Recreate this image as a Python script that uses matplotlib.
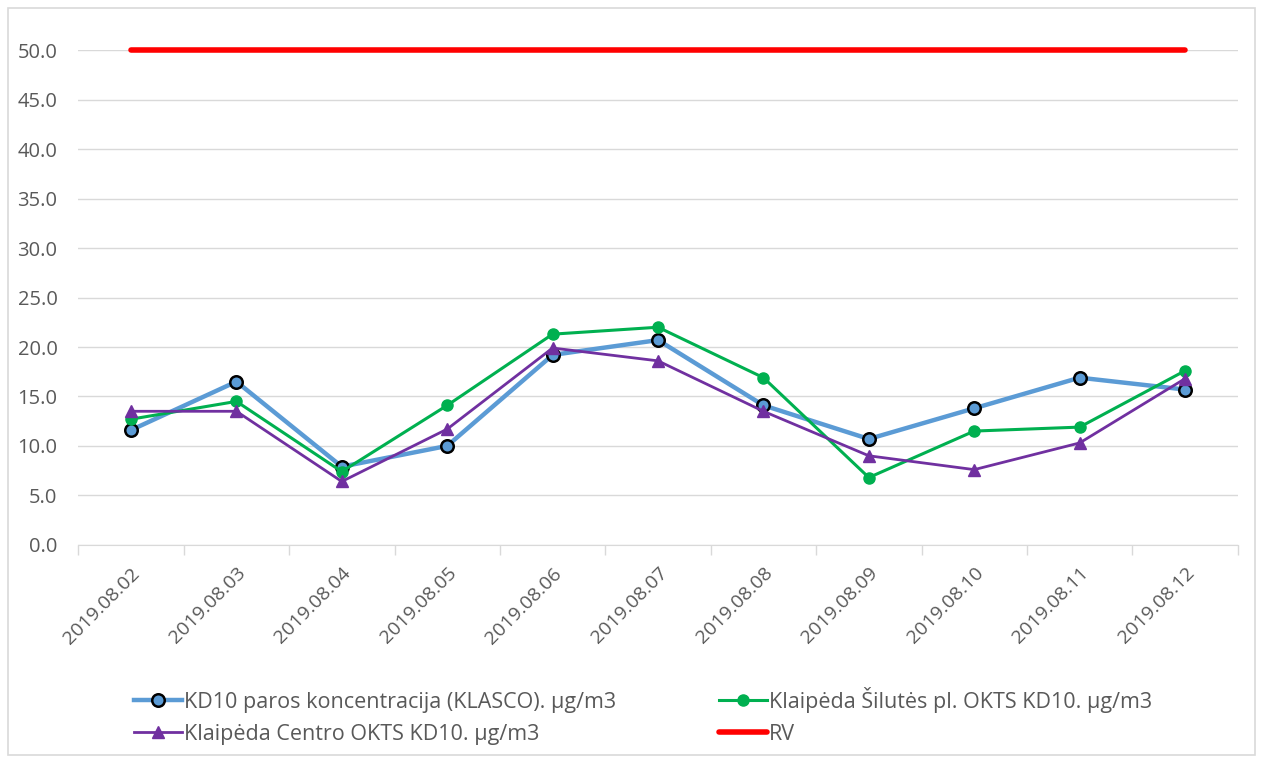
import matplotlib.pyplot as plt
import numpy as np
from matplotlib.patches import Rectangle

plt.rcParams['font.family'] = ['Open Sans', 'DejaVu Sans']

# duomenys
datos = ["2019.08.02", "2019.08.03", "2019.08.04", "2019.08.05", "2019.08.06", "2019.08.07",
         "2019.08.08", "2019.08.09", "2019.08.10", "2019.08.11", "2019.08.12"]
klasco = [11.6, 16.5, 7.9, 10.0, 19.2, 20.7, 14.1, 10.7, 13.8, 16.9, 15.7]
silutes = [12.7, 14.5, 7.4, 14.1, 21.3, 22.0, 16.9, 6.8, 11.5, 11.9, 17.6]
centro = [13.5, 13.5, 6.4, 11.7, 19.9, 18.6, 13.5, 9.0, 7.6, 10.3, 16.8]
rv = [50.0] * len(datos)

gray = "#595959"
x = np.arange(len(datos))

fig = plt.figure(figsize=(12.63, 7.63), dpi=100)
ax = fig.add_axes([0.062, 0.286, 0.918, 0.648])

l1, = ax.plot(x, klasco, color="#5B9BD5", lw=3.2, marker="o", ms=9, mfc="#5B9BD5", mec="black", mew=1.8,
              label="KD10 paros koncentracija (KLASCO). µg/m3", zorder=3)
l2, = ax.plot(x, silutes, color="#00B050", lw=2.2, marker="o", ms=8, mfc="#00B050", mec="#00B050",
              label="Klaipėda Šilutės pl. OKTS KD10. µg/m3", zorder=4)
l3, = ax.plot(x, centro, color="#7030A0", lw=2.0, marker="^", ms=9, mfc="#7030A0", mec="#7030A0",
              label="Klaipėda Centro OKTS KD10. µg/m3", zorder=5)
l4, = ax.plot(x, rv, color="#FF0000", lw=4, solid_capstyle="round", label="RV", clip_on=False, zorder=6)

ax.set_xlim(-0.5, len(datos) - 0.5)
ax.set_ylim(0, 50)
ax.set_yticks(np.arange(0, 51, 5))
ax.set_yticklabels([f"{v:.1f}" for v in np.arange(0, 51, 5)], fontsize=14.5, color=gray)
ax.yaxis.grid(True, color="#D9D9D9", lw=1)
ax.set_axisbelow(True)
ax.tick_params(axis="y", length=0, pad=15)

ax.set_xticks(x)
ax.set_xticklabels(datos, rotation=45, ha="right", rotation_mode="anchor", fontsize=14, color=gray)
ax.set_xticks(np.arange(-0.5, len(datos), 1), minor=True)
ax.tick_params(axis="x", which="major", length=0, pad=14)
ax.tick_params(axis="x", which="minor", length=7, color="#D9D9D9", width=1)

for s in ["left", "right", "top"]:
    ax.spines[s].set_visible(False)
ax.spines["bottom"].set_color("#D9D9D9")

# eilute po eilutes: KLASCO, Silutes / Centro, RV
fig.legend([l1, l3, l2, l4], [l1.get_label(), l3.get_label(), l2.get_label(), l4.get_label()],
           loc="upper left", bbox_to_anchor=(0.091, 0.125), ncol=2, frameon=False, fontsize=15.5,
           labelcolor=gray, columnspacing=4.8, handlelength=2.2, handletextpad=0.1, labelspacing=0.5)

fig.patches.append(Rectangle((0.006, 0.01), 0.988, 0.98, transform=fig.transFigure, fill=False,
                             edgecolor="#D9D9D9", lw=1.2))

fig.savefig("out.png", dpi=100)
